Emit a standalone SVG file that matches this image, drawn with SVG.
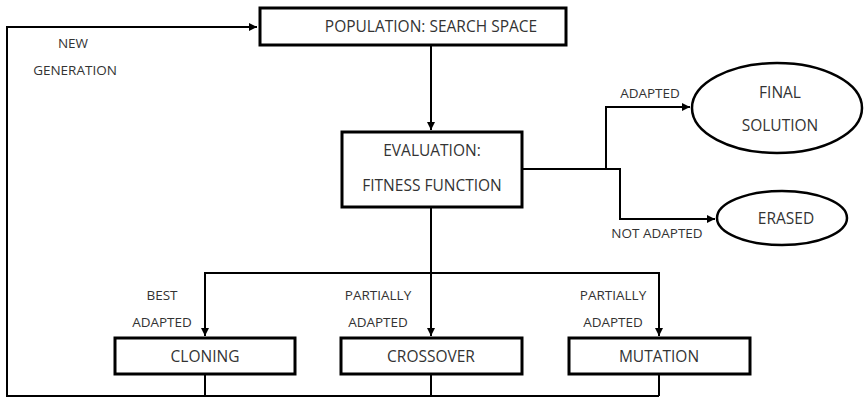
<svg xmlns="http://www.w3.org/2000/svg" width="867" height="397" viewBox="0 0 867 397">
<defs>
<marker id="ah" viewBox="0 0 10 10" refX="10" refY="5" markerWidth="4" markerHeight="4" orient="auto" markerUnits="strokeWidth"><path d="M0,0 L10,5 L0,10 z" fill="#000"/></marker>
<style>
.box{fill:#fff;stroke:#000;stroke-width:3}
.line{fill:none;stroke:#000;stroke-width:2}
.t{font-family:"Open Sans","Liberation Sans",sans-serif;font-size:15.5px;fill:#333;text-anchor:middle;dominant-baseline:central}
.l{font-family:"Open Sans","Liberation Sans",sans-serif;font-size:13.5px;fill:#333;text-anchor:middle;dominant-baseline:central}
</style>
</defs>
<rect width="867" height="397" fill="#fff"/>
<g id="connectors">
<path class="line" d="M431,45 V130" marker-end="url(#ah)"/>
<path class="line" d="M522,169 H606 V107 H690" marker-end="url(#ah)"/>
<path class="line" d="M606,169 H620 V219 H715" marker-end="url(#ah)"/>
<path class="line" d="M431,207 V336" marker-end="url(#ah)"/>
<path class="line" d="M431,273 H205 V336" marker-end="url(#ah)"/>
<path class="line" d="M431,273 H659 V336" marker-end="url(#ah)"/>
<path class="line" d="M205,374 V396 M431,374 V396 M659,374 V396"/>
<path class="line" d="M659,396 H7 V27 H257" marker-end="url(#ah)"/>
</g>
<g id="population"><rect class="box" x="260" y="8" width="306" height="37"/><text class="t" x="431" y="26">POPULATION: SEARCH SPACE</text></g>
<g id="evaluation"><rect class="box" x="342" y="132" width="180" height="75"/><text class="t" x="432" y="150">EVALUATION:</text><text class="t" x="432" y="185">FITNESS FUNCTION</text></g>
<g id="final"><ellipse cx="777" cy="108" rx="85" ry="45" fill="#fff" stroke="#000" stroke-width="2.5"/><text class="t" x="780" y="92">FINAL</text><text class="t" x="780" y="125">SOLUTION</text></g>
<g id="erased"><ellipse cx="782" cy="218" rx="65" ry="27" fill="#fff" stroke="#000" stroke-width="2.5"/><text class="t" x="786" y="218">ERASED</text></g>
<g id="cloning"><rect class="box" x="115" y="338" width="180" height="36"/><text class="t" x="205" y="356">CLONING</text></g>
<g id="crossover"><rect class="box" x="341" y="338" width="181" height="36"/><text class="t" x="431" y="356">CROSSOVER</text></g>
<g id="mutation"><rect class="box" x="569" y="338" width="181" height="36"/><text class="t" x="659" y="356">MUTATION</text></g>
<g id="labels">
<text class="l" x="73" y="43">NEW</text><text class="l" x="75" y="70">GENERATION</text>
<text class="l" x="650" y="93">ADAPTED</text>
<text class="l" x="657" y="233">NOT ADAPTED</text>
<text class="l" x="162" y="295">BEST</text><text class="l" x="162" y="322">ADAPTED</text>
<text class="l" x="378" y="295">PARTIALLY</text><text class="l" x="378" y="322">ADAPTED</text>
<text class="l" x="613" y="295">PARTIALLY</text><text class="l" x="613" y="322">ADAPTED</text>
</g>
</svg>
